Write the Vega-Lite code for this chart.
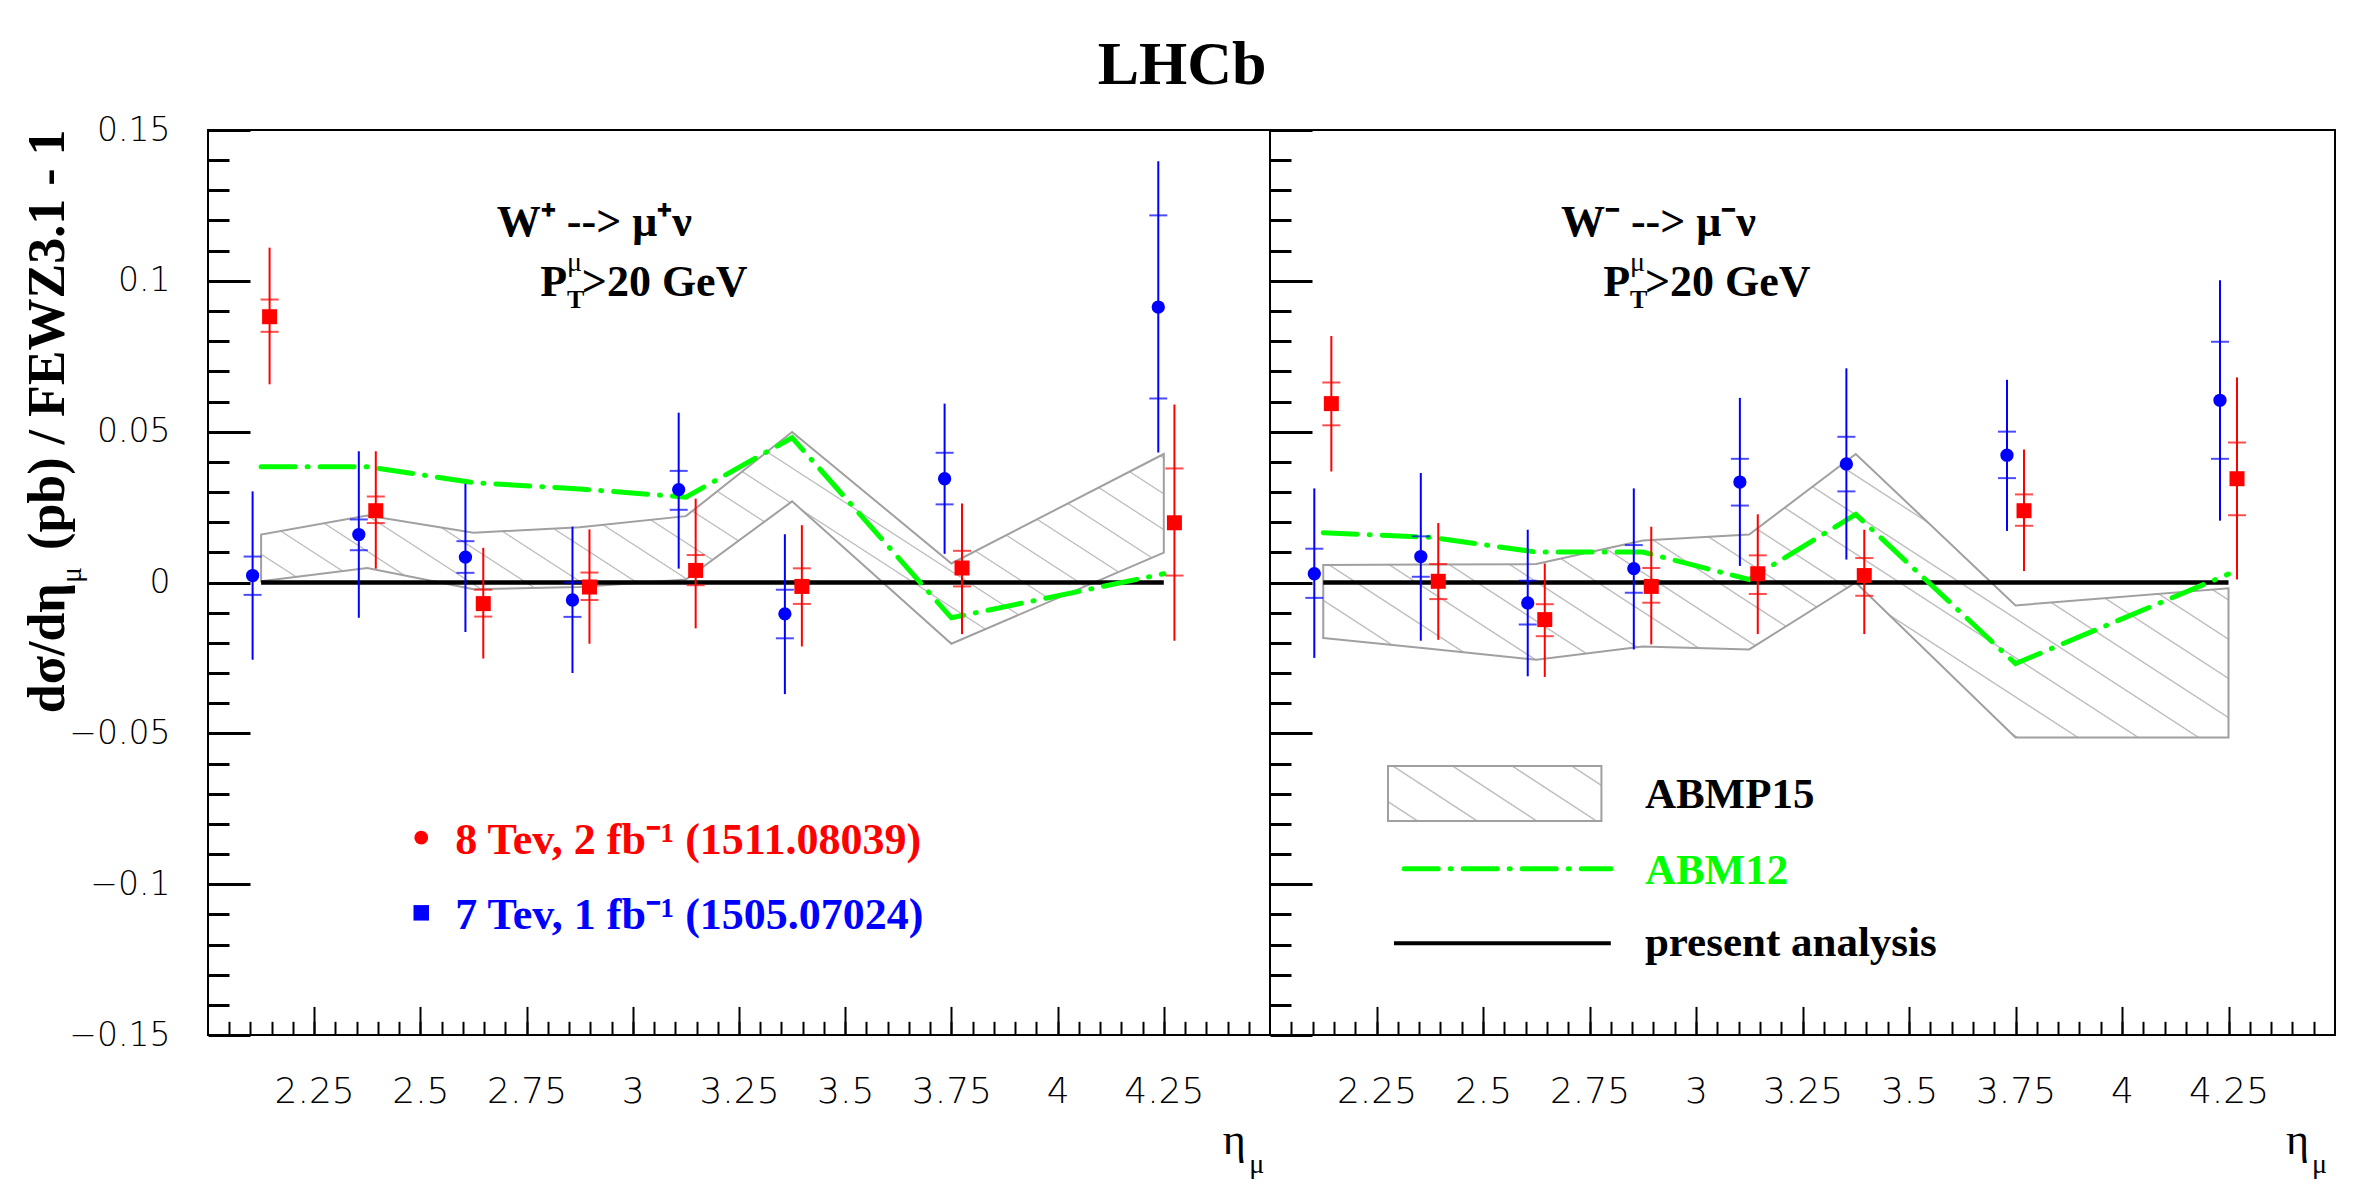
{
  "$schema": "https://vega.github.io/schema/vega-lite/v6.json",
  "background": "white",
  "padding": {"left": 20, "top": 33, "right": 0, "bottom": 0},
  "spacing": 0,
  "bounds": "flush",
  "config": {"view": {"stroke": "#000000", "strokeWidth": 2}},
  "datasets": {
    "pts": [
      {"p":"W+","e":"7 TeV","x":2.105,"v":0.0023,"slo":-0.0041,"shi":0.0086,"tlo":-0.0256,"thi":0.0302},
      {"p":"W+","e":"7 TeV","x":2.355,"v":0.0159,"slo":0.0107,"shi":0.0209,"tlo":-0.0117,"thi":0.0435},
      {"p":"W+","e":"7 TeV","x":2.606,"v":0.0084,"slo":0.0032,"shi":0.0137,"tlo":-0.0164,"thi":0.0327},
      {"p":"W+","e":"7 TeV","x":2.858,"v":-0.0058,"slo":-0.0114,"shi":0.0,"tlo":-0.030,"thi":0.0185},
      {"p":"W+","e":"7 TeV","x":3.108,"v":0.0308,"slo":0.0241,"shi":0.037,"tlo":0.0046,"thi":0.0563},
      {"p":"W+","e":"7 TeV","x":3.358,"v":-0.0104,"slo":-0.0185,"shi":-0.0024,"tlo":-0.037,"thi":0.016},
      {"p":"W+","e":"7 TeV","x":3.734,"v":0.0344,"slo":0.0259,"shi":0.043,"tlo":0.0095,"thi":0.0593},
      {"p":"W+","e":"7 TeV","x":4.237,"v":0.0913,"slo":0.061,"shi":0.1217,"tlo":0.0431,"thi":0.1396},
      {"p":"W+","e":"8 TeV","x":2.145,"v":0.0881,"slo":0.0831,"shi":0.0938,"tlo":0.0657,"thi":0.111},
      {"p":"W+","e":"8 TeV","x":2.395,"v":0.0238,"slo":0.0197,"shi":0.0285,"tlo":0.0046,"thi":0.0435},
      {"p":"W+","e":"8 TeV","x":2.648,"v":-0.007,"slo":-0.0113,"shi":-0.0024,"tlo":-0.0252,"thi":0.0115},
      {"p":"W+","e":"8 TeV","x":2.898,"v":-0.0015,"slo":-0.0058,"shi":0.0033,"tlo":-0.0203,"thi":0.0176},
      {"p":"W+","e":"8 TeV","x":3.148,"v":0.004,"slo":-0.0009,"shi":0.0091,"tlo":-0.0152,"thi":0.0278},
      {"p":"W+","e":"8 TeV","x":3.398,"v":-0.0013,"slo":-0.0071,"shi":0.0047,"tlo":-0.0212,"thi":0.019},
      {"p":"W+","e":"8 TeV","x":3.775,"v":0.0048,"slo":-0.0013,"shi":0.0105,"tlo":-0.0171,"thi":0.0262},
      {"p":"W+","e":"8 TeV","x":4.275,"v":0.0198,"slo":0.0023,"shi":0.0378,"tlo":-0.0193,"thi":0.059},
      {"p":"W-","e":"7 TeV","x":2.104,"v":0.0029,"slo":-0.0051,"shi":0.0112,"tlo":-0.025,"thi":0.0312},
      {"p":"W-","e":"7 TeV","x":2.354,"v":0.0086,"slo":0.0019,"shi":0.0153,"tlo":-0.0193,"thi":0.0363},
      {"p":"W-","e":"7 TeV","x":2.605,"v":-0.0068,"slo":-0.0139,"shi":0.0006,"tlo":-0.0311,"thi":0.0175},
      {"p":"W-","e":"7 TeV","x":2.854,"v":0.0046,"slo":-0.0034,"shi":0.0124,"tlo":-0.0222,"thi":0.0312},
      {"p":"W-","e":"7 TeV","x":3.103,"v":0.0333,"slo":0.0255,"shi":0.041,"tlo":0.0055,"thi":0.0612},
      {"p":"W-","e":"7 TeV","x":3.353,"v":0.0393,"slo":0.0302,"shi":0.0483,"tlo":0.0076,"thi":0.071},
      {"p":"W-","e":"7 TeV","x":3.73,"v":0.0422,"slo":0.0346,"shi":0.05,"tlo":0.0171,"thi":0.0672},
      {"p":"W-","e":"7 TeV","x":4.23,"v":0.0604,"slo":0.041,"shi":0.0798,"tlo":0.0205,"thi":0.1002},
      {"p":"W-","e":"8 TeV","x":2.144,"v":0.0593,"slo":0.0521,"shi":0.0663,"tlo":0.0368,"thi":0.0817},
      {"p":"W-","e":"8 TeV","x":2.395,"v":0.0004,"slo":-0.0055,"shi":0.0061,"tlo":-0.019,"thi":0.0197},
      {"p":"W-","e":"8 TeV","x":2.645,"v":-0.0123,"slo":-0.0178,"shi":-0.0072,"tlo":-0.0313,"thi":0.0063},
      {"p":"W-","e":"8 TeV","x":2.895,"v":-0.0013,"slo":-0.0067,"shi":0.0048,"tlo":-0.0205,"thi":0.0185},
      {"p":"W-","e":"8 TeV","x":3.145,"v":0.0029,"slo":-0.0038,"shi":0.009,"tlo":-0.0171,"thi":0.0226},
      {"p":"W-","e":"8 TeV","x":3.395,"v":0.0023,"slo":-0.0044,"shi":0.0081,"tlo":-0.0171,"thi":0.0175},
      {"p":"W-","e":"8 TeV","x":3.77,"v":0.0238,"slo":0.0188,"shi":0.0292,"tlo":0.0038,"thi":0.0441},
      {"p":"W-","e":"8 TeV","x":4.27,"v":0.0344,"slo":0.0223,"shi":0.0464,"tlo":0.001,"thi":0.068}
    ],
    "band": [
      {"p":"W+","x":2.125,"lo":0.0004,"hi":0.0159},
      {"p":"W+","x":2.375,"lo":0.0048,"hi":0.0222},
      {"p":"W+","x":2.625,"lo":-0.0022,"hi":0.0165},
      {"p":"W+","x":2.875,"lo":-0.0015,"hi":0.0183},
      {"p":"W+","x":3.125,"lo":0.001,"hi":0.022},
      {"p":"W+","x":3.375,"lo":0.0269,"hi":0.0499},
      {"p":"W+","x":3.75,"lo":-0.0203,"hi":0.0063},
      {"p":"W+","x":4.25,"lo":0.0099,"hi":0.0426},
      {"p":"W-","x":2.125,"lo":-0.0184,"hi":0.0058},
      {"p":"W-","x":2.375,"lo":-0.022,"hi":0.006},
      {"p":"W-","x":2.625,"lo":-0.0256,"hi":0.0061},
      {"p":"W-","x":2.875,"lo":-0.0212,"hi":0.0139},
      {"p":"W-","x":3.125,"lo":-0.0222,"hi":0.0159},
      {"p":"W-","x":3.375,"lo":0.0,"hi":0.0426},
      {"p":"W-","x":3.75,"lo":-0.0514,"hi":-0.0076},
      {"p":"W-","x":4.25,"lo":-0.0514,"hi":-0.0019}
    ],
    "abm12": [
      {"p":"W+","x":2.125,"y":0.0384},
      {"p":"W+","x":2.375,"y":0.0384},
      {"p":"W+","x":2.625,"y":0.0331},
      {"p":"W+","x":2.875,"y":0.031},
      {"p":"W+","x":3.125,"y":0.0283},
      {"p":"W+","x":3.375,"y":0.048},
      {"p":"W+","x":3.75,"y":-0.0117},
      {"p":"W+","x":4.25,"y":0.0029},
      {"p":"W-","x":2.125,"y":0.0165},
      {"p":"W-","x":2.375,"y":0.015},
      {"p":"W-","x":2.625,"y":0.0101},
      {"p":"W-","x":2.875,"y":0.0101},
      {"p":"W-","x":3.125,"y":0.001},
      {"p":"W-","x":3.375,"y":0.0226},
      {"p":"W-","x":3.75,"y":-0.0269},
      {"p":"W-","x":4.25,"y":0.0028}
    ]
  },
  "hconcat": [
    {
      "width": 1062,
      "height": 905,
      "resolve": {"axis": {"x": "independent", "y": "independent"}},
      "layer": [
        {
          "data": {"name": "band"},
          "transform": [{"filter": "datum.p == 'W+'"}],
          "mark": {"type": "area", "stroke": "#a0a0a0", "strokeWidth": 2,
            "fill": {"gradient": "linear", "x1": 0, "y1": 1, "x2": 1.204, "y2": 0.564, "stops": [
              {"offset":0.0208,"color":"#ffffff"},{"offset":0.0225,"color":"#b4b4b4"},{"offset":0.0242,"color":"#ffffff"},
              {"offset":0.0658,"color":"#ffffff"},{"offset":0.0675,"color":"#b4b4b4"},{"offset":0.0692,"color":"#ffffff"},
              {"offset":0.1108,"color":"#ffffff"},{"offset":0.1125,"color":"#b4b4b4"},{"offset":0.1142,"color":"#ffffff"},
              {"offset":0.1558,"color":"#ffffff"},{"offset":0.1575,"color":"#b4b4b4"},{"offset":0.1592,"color":"#ffffff"},
              {"offset":0.2008,"color":"#ffffff"},{"offset":0.2025,"color":"#b4b4b4"},{"offset":0.2042,"color":"#ffffff"},
              {"offset":0.2458,"color":"#ffffff"},{"offset":0.2475,"color":"#b4b4b4"},{"offset":0.2492,"color":"#ffffff"},
              {"offset":0.2908,"color":"#ffffff"},{"offset":0.2925,"color":"#b4b4b4"},{"offset":0.2942,"color":"#ffffff"},
              {"offset":0.3358,"color":"#ffffff"},{"offset":0.3375,"color":"#b4b4b4"},{"offset":0.3392,"color":"#ffffff"},
              {"offset":0.3808,"color":"#ffffff"},{"offset":0.3825,"color":"#b4b4b4"},{"offset":0.3842,"color":"#ffffff"},
              {"offset":0.4258,"color":"#ffffff"},{"offset":0.4275,"color":"#b4b4b4"},{"offset":0.4292,"color":"#ffffff"},
              {"offset":0.4708,"color":"#ffffff"},{"offset":0.4725,"color":"#b4b4b4"},{"offset":0.4742,"color":"#ffffff"},
              {"offset":0.5158,"color":"#ffffff"},{"offset":0.5175,"color":"#b4b4b4"},{"offset":0.5192,"color":"#ffffff"},
              {"offset":0.5608,"color":"#ffffff"},{"offset":0.5625,"color":"#b4b4b4"},{"offset":0.5642,"color":"#ffffff"},
              {"offset":0.6058,"color":"#ffffff"},{"offset":0.6075,"color":"#b4b4b4"},{"offset":0.6092,"color":"#ffffff"},
              {"offset":0.6508,"color":"#ffffff"},{"offset":0.6525,"color":"#b4b4b4"},{"offset":0.6542,"color":"#ffffff"},
              {"offset":0.6958,"color":"#ffffff"},{"offset":0.6975,"color":"#b4b4b4"},{"offset":0.6992,"color":"#ffffff"},
              {"offset":0.7408,"color":"#ffffff"},{"offset":0.7425,"color":"#b4b4b4"},{"offset":0.7442,"color":"#ffffff"},
              {"offset":0.7858,"color":"#ffffff"},{"offset":0.7875,"color":"#b4b4b4"},{"offset":0.7892,"color":"#ffffff"},
              {"offset":0.8308,"color":"#ffffff"},{"offset":0.8325,"color":"#b4b4b4"},{"offset":0.8342,"color":"#ffffff"},
              {"offset":0.8758,"color":"#ffffff"},{"offset":0.8775,"color":"#b4b4b4"},{"offset":0.8792,"color":"#ffffff"},
              {"offset":0.9208,"color":"#ffffff"},{"offset":0.9225,"color":"#b4b4b4"},{"offset":0.9242,"color":"#ffffff"},
              {"offset":0.9658,"color":"#ffffff"},{"offset":0.9675,"color":"#b4b4b4"},{"offset":0.9692,"color":"#ffffff"}
            ]}},
          "encoding": {
            "x": {"field": "x", "type": "quantitative", "scale": {"domain": [2, 4.5], "nice": false, "zero": false},
              "axis": {"orient": "bottom", "values": [2.25,2.5,2.75,3,3.25,3.5,3.75,4,4.25], "format": ".3~g", "ticks": false, "domain": false, "grid": false, "title": null,
                "labelFont": "DejaVu Sans", "labelFontSize": 36, "labelFontWeight": 200, "labelColor": "#000000", "labelPadding": 39, "labelFlush": false, "labelOverlap": false, "labelBound": false}},
            "y": {"field": "lo", "type": "quantitative", "scale": {"domain": [-0.15, 0.15], "nice": false, "zero": false},
              "axis": {"orient": "left", "values": [-0.15,-0.1,-0.05,0,0.05,0.1,0.15], "format": ".3~g", "ticks": false, "domain": false, "grid": false, "title": null,
                "labelFont": "DejaVu Sans", "labelFontSize": 33, "labelFontWeight": 200, "labelColor": "#000000", "labelPadding": 38, "labelFlush": false, "labelOverlap": false, "labelBound": false}},
            "y2": {"field": "hi"}
          }
        },
        {
          "data": {"values": [{}]},
          "mark": {"type": "rule", "color": "#000000", "strokeWidth": 4.5},
          "encoding": {"x": {"datum": 2.125, "axis": null}, "x2": {"datum": 4.25}, "y": {"datum": 0, "axis": null}}
        },
        {
          "data": {"name": "abm12"},
          "transform": [{"filter": "datum.p == 'W+'"}],
          "mark": {"type": "line", "color": "#00ff00", "strokeWidth": 5, "strokeDash": [34, 12, 1, 12], "strokeCap": "round"},
          "encoding": {"x": {"field": "x", "type": "quantitative", "axis": null}, "y": {"field": "y", "type": "quantitative", "axis": null}}
        },
        {
          "data": {"name": "pts"},
          "transform": [{"filter": "datum.p == 'W+'"}],
          "mark": {"type": "rule", "strokeWidth": 2},
          "encoding": {
            "x": {"field": "x", "type": "quantitative",
              "axis": {"orient": "bottom", "values": [2.25,2.5,2.75,3,3.25,3.5,3.75,4,4.25], "labels": false, "domain": false, "grid": false, "title": null, "tickSize": -28.6, "tickWidth": 2, "tickColor": "#000000"}},
            "y": {"field": "tlo", "type": "quantitative",
              "axis": {"orient": "left", "values": [-0.15,-0.1,-0.05,0,0.05,0.1,0.15], "labels": false, "domain": false, "grid": false, "title": null, "tickSize": -42, "tickWidth": 3, "tickColor": "#000000"}},
            "y2": {"field": "thi"},
            "color": {"field": "e", "type": "nominal", "scale": {"domain": ["8 TeV", "7 TeV"], "range": ["#ff0000", "#0000ff"]}, "legend": null}
          }
        },
        {
          "data": {"name": "pts"},
          "transform": [{"filter": "datum.p == 'W+'"}],
          "mark": {"type": "tick", "orient": "horizontal", "size": 18, "thickness": 2},
          "encoding": {
            "x": {"field": "x", "type": "quantitative",
              "axis": {"orient": "bottom", "values": [2.05,2.1,2.15,2.2,2.25,2.3,2.35,2.4,2.45,2.5,2.55,2.6,2.65,2.7,2.75,2.8,2.85,2.9,2.95,3,3.05,3.1,3.15,3.2,3.25,3.3,3.35,3.4,3.45,3.5,3.55,3.6,3.65,3.7,3.75,3.8,3.85,3.9,3.95,4,4.05,4.1,4.15,4.2,4.25,4.3,4.35,4.4,4.45], "labels": false, "domain": false, "grid": false, "title": null, "tickSize": -13.7, "tickWidth": 2, "tickColor": "#000000"}},
            "y": {"field": "slo", "type": "quantitative",
              "axis": {"orient": "left", "values": [-0.14,-0.13,-0.12,-0.11,-0.1,-0.09,-0.08,-0.07,-0.06,-0.05,-0.04,-0.03,-0.02,-0.01,0,0.01,0.02,0.03,0.04,0.05,0.06,0.07,0.08,0.09,0.1,0.11,0.12,0.13,0.14], "labels": false, "domain": false, "grid": false, "title": null, "tickSize": -21, "tickWidth": 3, "tickColor": "#000000"}},
            "color": {"field": "e", "type": "nominal", "legend": null}
          }
        },
        {
          "data": {"name": "pts"},
          "transform": [{"filter": "datum.p == 'W+'"}],
          "mark": {"type": "tick", "orient": "horizontal", "size": 18, "thickness": 2},
          "encoding": {
            "x": {"field": "x", "type": "quantitative", "axis": null},
            "y": {"field": "shi", "type": "quantitative", "axis": null},
            "color": {"field": "e", "type": "nominal", "legend": null}
          }
        },
        {
          "data": {"name": "pts"},
          "transform": [{"filter": "datum.p == 'W+' && datum.e == '7 TeV'"}],
          "mark": {"type": "point", "shape": "circle", "filled": true, "opacity": 1, "size": 177, "color": "#0000ff"},
          "encoding": {"x": {"field": "x", "type": "quantitative", "axis": null}, "y": {"field": "v", "type": "quantitative", "axis": null}}
        },
        {
          "data": {"name": "pts"},
          "transform": [{"filter": "datum.p == 'W+' && datum.e == '8 TeV'"}],
          "mark": {"type": "point", "shape": "square", "filled": true, "opacity": 1, "size": 225, "color": "#ff0000"},
          "encoding": {"x": {"field": "x", "type": "quantitative", "axis": null}, "y": {"field": "v", "type": "quantitative", "axis": null}}
        },
        {
          "data": {"values": [{}]},
          "mark": {"type": "text", "text": "W⁺ --> μ⁺ν", "font": "Liberation Serif", "fontWeight": "bold", "fontSize": 44, "align": "left", "baseline": "alphabetic", "color": "#000000"},
          "encoding": {"x": {"datum": 2.68, "axis": null}, "y": {"datum": 0.1149, "axis": null}}
        },
        {
          "data": {"values": [{}]},
          "mark": {"type": "text", "text": "P", "font": "Liberation Serif", "fontWeight": "bold", "fontSize": 44, "align": "left", "baseline": "alphabetic", "color": "#000000"},
          "encoding": {"x": {"datum": 2.782, "axis": null}, "y": {"datum": 0.095, "axis": null}}
        },
        {
          "data": {"values": [{}]},
          "mark": {"type": "text", "text": "μ", "font": "Liberation Serif", "fontSize": 28, "align": "left", "baseline": "alphabetic", "color": "#000000"},
          "encoding": {"x": {"datum": 2.845, "axis": null}, "y": {"datum": 0.1033, "axis": null}}
        },
        {
          "data": {"values": [{}]},
          "mark": {"type": "text", "text": "T", "font": "Liberation Serif", "fontWeight": "bold", "fontSize": 26, "align": "left", "baseline": "alphabetic", "color": "#000000"},
          "encoding": {"x": {"datum": 2.845, "axis": null}, "y": {"datum": 0.091, "axis": null}}
        },
        {
          "data": {"values": [{}]},
          "mark": {"type": "text", "text": ">20 GeV", "font": "Liberation Serif", "fontWeight": "bold", "fontSize": 44, "align": "left", "baseline": "alphabetic", "color": "#000000"},
          "encoding": {"x": {"datum": 2.88, "axis": null}, "y": {"datum": 0.095, "axis": null}}
        },
        {
          "data": {"values": [{}]},
          "mark": {"type": "text", "text": "LHCb", "font": "Liberation Serif", "fontWeight": "bold", "fontSize": 62, "align": "center", "baseline": "alphabetic", "color": "#000000"},
          "encoding": {"x": {"datum": 4.293, "axis": null}, "y": {"datum": 0.1652, "axis": null}}
        },
        {
          "data": {"values": [{}]},
          "mark": {"type": "text", "text": "dσ/dη", "angle": 270, "font": "Liberation Serif", "fontWeight": "bold", "fontSize": 52, "align": "right", "baseline": "alphabetic", "color": "#000000"},
          "encoding": {"x": {"datum": 1.661, "axis": null}, "y": {"datum": -0.0002, "axis": null}}
        },
        {
          "data": {"values": [{}]},
          "mark": {"type": "text", "text": "μ", "angle": 270, "font": "Liberation Serif", "fontSize": 30, "align": "left", "baseline": "alphabetic", "color": "#000000"},
          "encoding": {"x": {"datum": 1.701, "axis": null}, "y": {"datum": -0.0002, "axis": null}}
        },
        {
          "data": {"values": [{}]},
          "mark": {"type": "text", "text": "(pb) / FEWZ3.1 - 1", "angle": 270, "font": "Liberation Serif", "fontWeight": "bold", "fontSize": 52, "align": "left", "baseline": "alphabetic", "color": "#000000"},
          "encoding": {"x": {"datum": 1.661, "axis": null}, "y": {"datum": 0.0108, "axis": null}}
        },
        {
          "data": {"values": [{}]},
          "mark": {"type": "text", "text": "η", "font": "Liberation Serif", "fontSize": 44, "align": "left", "baseline": "alphabetic", "color": "#000000"},
          "encoding": {"x": {"datum": 4.389, "axis": null}, "y": {"datum": -0.1894, "axis": null}}
        },
        {
          "data": {"values": [{}]},
          "mark": {"type": "text", "text": "μ", "font": "Liberation Serif", "fontSize": 28, "align": "left", "baseline": "alphabetic", "color": "#000000"},
          "encoding": {"x": {"datum": 4.451, "axis": null}, "y": {"datum": -0.1957, "axis": null}}
        },
        {
          "data": {"values": [{}]},
          "mark": {"type": "point", "shape": "circle", "filled": true, "opacity": 1, "size": 189, "color": "#ff0000"},
          "encoding": {"x": {"datum": 2.502, "axis": null}, "y": {"datum": -0.0846, "axis": null}}
        },
        {
          "data": {"values": [{}]},
          "mark": {"type": "point", "shape": "square", "filled": true, "opacity": 1, "size": 240, "color": "#0000ff"},
          "encoding": {"x": {"datum": 2.502, "axis": null}, "y": {"datum": -0.1095, "axis": null}}
        },
        {
          "data": {"values": [{}]},
          "mark": {"type": "text", "text": "8 Tev, 2 fb⁻¹ (1511.08039)", "font": "Liberation Serif", "fontWeight": "bold", "fontSize": 44, "align": "left", "baseline": "alphabetic", "color": "#ff0000"},
          "encoding": {"x": {"datum": 2.582, "axis": null}, "y": {"datum": -0.0901, "axis": null}}
        },
        {
          "data": {"values": [{}]},
          "mark": {"type": "text", "text": "7 Tev, 1 fb⁻¹ (1505.07024)", "font": "Liberation Serif", "fontWeight": "bold", "fontSize": 44, "align": "left", "baseline": "alphabetic", "color": "#0000ff"},
          "encoding": {"x": {"datum": 2.582, "axis": null}, "y": {"datum": -0.115, "axis": null}}
        }
      ]
    },
    {
      "width": 1065,
      "height": 905,
      "resolve": {"axis": {"x": "independent", "y": "independent"}},
      "layer": [
        {
          "data": {"name": "band"},
          "transform": [{"filter": "datum.p == 'W-'"}],
          "mark": {"type": "area", "stroke": "#a0a0a0", "strokeWidth": 2,
            "fill": {"gradient": "linear", "x1": 0, "y1": 1, "x2": 1.2025, "y2": 0.42, "stops": [
              {"offset":0.0208,"color":"#ffffff"},{"offset":0.0225,"color":"#b4b4b4"},{"offset":0.0242,"color":"#ffffff"},
              {"offset":0.0658,"color":"#ffffff"},{"offset":0.0675,"color":"#b4b4b4"},{"offset":0.0692,"color":"#ffffff"},
              {"offset":0.1108,"color":"#ffffff"},{"offset":0.1125,"color":"#b4b4b4"},{"offset":0.1142,"color":"#ffffff"},
              {"offset":0.1558,"color":"#ffffff"},{"offset":0.1575,"color":"#b4b4b4"},{"offset":0.1592,"color":"#ffffff"},
              {"offset":0.2008,"color":"#ffffff"},{"offset":0.2025,"color":"#b4b4b4"},{"offset":0.2042,"color":"#ffffff"},
              {"offset":0.2458,"color":"#ffffff"},{"offset":0.2475,"color":"#b4b4b4"},{"offset":0.2492,"color":"#ffffff"},
              {"offset":0.2908,"color":"#ffffff"},{"offset":0.2925,"color":"#b4b4b4"},{"offset":0.2942,"color":"#ffffff"},
              {"offset":0.3358,"color":"#ffffff"},{"offset":0.3375,"color":"#b4b4b4"},{"offset":0.3392,"color":"#ffffff"},
              {"offset":0.3808,"color":"#ffffff"},{"offset":0.3825,"color":"#b4b4b4"},{"offset":0.3842,"color":"#ffffff"},
              {"offset":0.4258,"color":"#ffffff"},{"offset":0.4275,"color":"#b4b4b4"},{"offset":0.4292,"color":"#ffffff"},
              {"offset":0.4708,"color":"#ffffff"},{"offset":0.4725,"color":"#b4b4b4"},{"offset":0.4742,"color":"#ffffff"},
              {"offset":0.5158,"color":"#ffffff"},{"offset":0.5175,"color":"#b4b4b4"},{"offset":0.5192,"color":"#ffffff"},
              {"offset":0.5608,"color":"#ffffff"},{"offset":0.5625,"color":"#b4b4b4"},{"offset":0.5642,"color":"#ffffff"},
              {"offset":0.6058,"color":"#ffffff"},{"offset":0.6075,"color":"#b4b4b4"},{"offset":0.6092,"color":"#ffffff"},
              {"offset":0.6508,"color":"#ffffff"},{"offset":0.6525,"color":"#b4b4b4"},{"offset":0.6542,"color":"#ffffff"},
              {"offset":0.6958,"color":"#ffffff"},{"offset":0.6975,"color":"#b4b4b4"},{"offset":0.6992,"color":"#ffffff"},
              {"offset":0.7408,"color":"#ffffff"},{"offset":0.7425,"color":"#b4b4b4"},{"offset":0.7442,"color":"#ffffff"},
              {"offset":0.7858,"color":"#ffffff"},{"offset":0.7875,"color":"#b4b4b4"},{"offset":0.7892,"color":"#ffffff"},
              {"offset":0.8308,"color":"#ffffff"},{"offset":0.8325,"color":"#b4b4b4"},{"offset":0.8342,"color":"#ffffff"},
              {"offset":0.8758,"color":"#ffffff"},{"offset":0.8775,"color":"#b4b4b4"},{"offset":0.8792,"color":"#ffffff"},
              {"offset":0.9208,"color":"#ffffff"},{"offset":0.9225,"color":"#b4b4b4"},{"offset":0.9242,"color":"#ffffff"},
              {"offset":0.9658,"color":"#ffffff"},{"offset":0.9675,"color":"#b4b4b4"},{"offset":0.9692,"color":"#ffffff"}
            ]}},
          "encoding": {
            "x": {"field": "x", "type": "quantitative", "scale": {"domain": [2, 4.5], "nice": false, "zero": false},
              "axis": {"orient": "bottom", "values": [2.25,2.5,2.75,3,3.25,3.5,3.75,4,4.25], "format": ".3~g", "ticks": false, "domain": false, "grid": false, "title": null,
                "labelFont": "DejaVu Sans", "labelFontSize": 36, "labelFontWeight": 200, "labelColor": "#000000", "labelPadding": 39, "labelFlush": false, "labelOverlap": false, "labelBound": false}},
            "y": {"field": "lo", "type": "quantitative", "scale": {"domain": [-0.15, 0.15], "nice": false, "zero": false}, "axis": null},
            "y2": {"field": "hi"}
          }
        },
        {
          "data": {"values": [{}]},
          "mark": {"type": "rule", "color": "#000000", "strokeWidth": 4.5},
          "encoding": {"x": {"datum": 2.125, "axis": null}, "x2": {"datum": 4.25}, "y": {"datum": 0, "axis": null}}
        },
        {
          "data": {"name": "abm12"},
          "transform": [{"filter": "datum.p == 'W-'"}],
          "mark": {"type": "line", "color": "#00ff00", "strokeWidth": 5, "strokeDash": [34, 12, 1, 12], "strokeCap": "round"},
          "encoding": {"x": {"field": "x", "type": "quantitative", "axis": null}, "y": {"field": "y", "type": "quantitative", "axis": null}}
        },
        {
          "data": {"name": "pts"},
          "transform": [{"filter": "datum.p == 'W-'"}],
          "mark": {"type": "rule", "strokeWidth": 2},
          "encoding": {
            "x": {"field": "x", "type": "quantitative",
              "axis": {"orient": "bottom", "values": [2.25,2.5,2.75,3,3.25,3.5,3.75,4,4.25], "labels": false, "domain": false, "grid": false, "title": null, "tickSize": -28.6, "tickWidth": 2, "tickColor": "#000000"}},
            "y": {"field": "tlo", "type": "quantitative",
              "axis": {"orient": "left", "values": [-0.15,-0.1,-0.05,0,0.05,0.1,0.15], "labels": false, "domain": false, "grid": false, "title": null, "tickSize": -42, "tickWidth": 3, "tickColor": "#000000"}},
            "y2": {"field": "thi"},
            "color": {"field": "e", "type": "nominal", "scale": {"domain": ["8 TeV", "7 TeV"], "range": ["#ff0000", "#0000ff"]}, "legend": null}
          }
        },
        {
          "data": {"name": "pts"},
          "transform": [{"filter": "datum.p == 'W-'"}],
          "mark": {"type": "tick", "orient": "horizontal", "size": 18, "thickness": 2},
          "encoding": {
            "x": {"field": "x", "type": "quantitative",
              "axis": {"orient": "bottom", "values": [2.05,2.1,2.15,2.2,2.25,2.3,2.35,2.4,2.45,2.5,2.55,2.6,2.65,2.7,2.75,2.8,2.85,2.9,2.95,3,3.05,3.1,3.15,3.2,3.25,3.3,3.35,3.4,3.45,3.5,3.55,3.6,3.65,3.7,3.75,3.8,3.85,3.9,3.95,4,4.05,4.1,4.15,4.2,4.25,4.3,4.35,4.4,4.45], "labels": false, "domain": false, "grid": false, "title": null, "tickSize": -13.7, "tickWidth": 2, "tickColor": "#000000"}},
            "y": {"field": "slo", "type": "quantitative",
              "axis": {"orient": "left", "values": [-0.14,-0.13,-0.12,-0.11,-0.1,-0.09,-0.08,-0.07,-0.06,-0.05,-0.04,-0.03,-0.02,-0.01,0,0.01,0.02,0.03,0.04,0.05,0.06,0.07,0.08,0.09,0.1,0.11,0.12,0.13,0.14], "labels": false, "domain": false, "grid": false, "title": null, "tickSize": -21, "tickWidth": 3, "tickColor": "#000000"}},
            "color": {"field": "e", "type": "nominal", "legend": null}
          }
        },
        {
          "data": {"name": "pts"},
          "transform": [{"filter": "datum.p == 'W-'"}],
          "mark": {"type": "tick", "orient": "horizontal", "size": 18, "thickness": 2},
          "encoding": {
            "x": {"field": "x", "type": "quantitative", "axis": null},
            "y": {"field": "shi", "type": "quantitative", "axis": null},
            "color": {"field": "e", "type": "nominal", "legend": null}
          }
        },
        {
          "data": {"name": "pts"},
          "transform": [{"filter": "datum.p == 'W-' && datum.e == '7 TeV'"}],
          "mark": {"type": "point", "shape": "circle", "filled": true, "opacity": 1, "size": 177, "color": "#0000ff"},
          "encoding": {"x": {"field": "x", "type": "quantitative", "axis": null}, "y": {"field": "v", "type": "quantitative", "axis": null}}
        },
        {
          "data": {"name": "pts"},
          "transform": [{"filter": "datum.p == 'W-' && datum.e == '8 TeV'"}],
          "mark": {"type": "point", "shape": "square", "filled": true, "opacity": 1, "size": 225, "color": "#ff0000"},
          "encoding": {"x": {"field": "x", "type": "quantitative", "axis": null}, "y": {"field": "v", "type": "quantitative", "axis": null}}
        },
        {
          "data": {"values": [{}]},
          "mark": {"type": "text", "text": "W⁻ --> μ⁻ν", "font": "Liberation Serif", "fontWeight": "bold", "fontSize": 44, "align": "left", "baseline": "alphabetic", "color": "#000000"},
          "encoding": {"x": {"datum": 2.683, "axis": null}, "y": {"datum": 0.1149, "axis": null}}
        },
        {
          "data": {"values": [{}]},
          "mark": {"type": "text", "text": "P", "font": "Liberation Serif", "fontWeight": "bold", "fontSize": 44, "align": "left", "baseline": "alphabetic", "color": "#000000"},
          "encoding": {"x": {"datum": 2.782, "axis": null}, "y": {"datum": 0.095, "axis": null}}
        },
        {
          "data": {"values": [{}]},
          "mark": {"type": "text", "text": "μ", "font": "Liberation Serif", "fontSize": 28, "align": "left", "baseline": "alphabetic", "color": "#000000"},
          "encoding": {"x": {"datum": 2.845, "axis": null}, "y": {"datum": 0.1033, "axis": null}}
        },
        {
          "data": {"values": [{}]},
          "mark": {"type": "text", "text": "T", "font": "Liberation Serif", "fontWeight": "bold", "fontSize": 26, "align": "left", "baseline": "alphabetic", "color": "#000000"},
          "encoding": {"x": {"datum": 2.845, "axis": null}, "y": {"datum": 0.091, "axis": null}}
        },
        {
          "data": {"values": [{}]},
          "mark": {"type": "text", "text": ">20 GeV", "font": "Liberation Serif", "fontWeight": "bold", "fontSize": 44, "align": "left", "baseline": "alphabetic", "color": "#000000"},
          "encoding": {"x": {"datum": 2.88, "axis": null}, "y": {"datum": 0.095, "axis": null}}
        },
        {
          "data": {"values": [{}]},
          "mark": {"type": "text", "text": "η", "font": "Liberation Serif", "fontSize": 44, "align": "left", "baseline": "alphabetic", "color": "#000000"},
          "encoding": {"x": {"datum": 4.385, "axis": null}, "y": {"datum": -0.1894, "axis": null}}
        },
        {
          "data": {"values": [{}]},
          "mark": {"type": "text", "text": "μ", "font": "Liberation Serif", "fontSize": 28, "align": "left", "baseline": "alphabetic", "color": "#000000"},
          "encoding": {"x": {"datum": 4.446, "axis": null}, "y": {"datum": -0.1957, "axis": null}}
        },
        {
          "data": {"values": [{}]},
          "mark": {"type": "rect", "stroke": "#a0a0a0", "strokeWidth": 2,
            "fill": {"gradient": "linear", "x1": 0, "y1": 1, "x2": 1.2066, "y2": 0.522, "stops": [
              {"offset":0.092,"color":"#ffffff"},{"offset":0.1,"color":"#b4b4b4"},{"offset":0.108,"color":"#ffffff"},
              {"offset":0.292,"color":"#ffffff"},{"offset":0.3,"color":"#b4b4b4"},{"offset":0.308,"color":"#ffffff"},
              {"offset":0.492,"color":"#ffffff"},{"offset":0.5,"color":"#b4b4b4"},{"offset":0.508,"color":"#ffffff"},
              {"offset":0.692,"color":"#ffffff"},{"offset":0.7,"color":"#b4b4b4"},{"offset":0.708,"color":"#ffffff"},
              {"offset":0.892,"color":"#ffffff"},{"offset":0.9,"color":"#b4b4b4"},{"offset":0.908,"color":"#ffffff"}
            ]}},
          "encoding": {"x": {"datum": 2.277, "axis": null}, "x2": {"datum": 2.778}, "y": {"datum": -0.0608, "axis": null}, "y2": {"datum": -0.0791}}
        },
        {
          "data": {"values": [{}]},
          "mark": {"type": "text", "text": "ABMP15", "font": "Liberation Serif", "fontWeight": "bold", "fontSize": 43, "align": "left", "baseline": "alphabetic", "color": "#000000"},
          "encoding": {"x": {"datum": 2.88, "axis": null}, "y": {"datum": -0.0747, "axis": null}}
        },
        {
          "data": {"values": [{}]},
          "mark": {"type": "rule", "color": "#00ff00", "strokeWidth": 5, "strokeDash": [34, 12, 1, 12], "strokeCap": "round"},
          "encoding": {"x": {"datum": 2.315, "axis": null}, "x2": {"datum": 2.8}, "y": {"datum": -0.0949, "axis": null}}
        },
        {
          "data": {"values": [{}]},
          "mark": {"type": "text", "text": "ABM12", "font": "Liberation Serif", "fontWeight": "bold", "fontSize": 43, "align": "left", "baseline": "alphabetic", "color": "#00ff00"},
          "encoding": {"x": {"datum": 2.88, "axis": null}, "y": {"datum": -0.0998, "axis": null}}
        },
        {
          "data": {"values": [{}]},
          "mark": {"type": "rule", "color": "#000000", "strokeWidth": 4},
          "encoding": {"x": {"datum": 2.291, "axis": null}, "x2": {"datum": 2.8}, "y": {"datum": -0.1196, "axis": null}}
        },
        {
          "data": {"values": [{}]},
          "mark": {"type": "text", "text": "present analysis", "font": "Liberation Serif", "fontWeight": "bold", "fontSize": 43, "align": "left", "baseline": "alphabetic", "color": "#000000"},
          "encoding": {"x": {"datum": 2.88, "axis": null}, "y": {"datum": -0.1238, "axis": null}}
        }
      ]
    }
  ]
}
